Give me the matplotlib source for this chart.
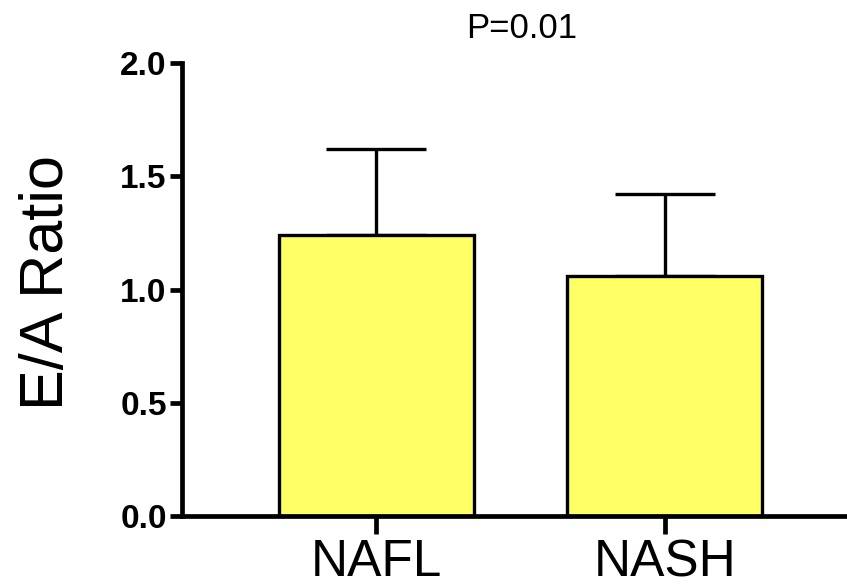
import matplotlib
matplotlib.use("Agg")
import matplotlib.pyplot as plt

categories = ["NAFL", "NASH"]
means = [1.24, 1.06]
sd_upper = [0.38, 0.36]
y_ticks = [0.0, 0.5, 1.0, 1.5, 2.0]
y_tick_labels = ["0.0", "0.5", "1.0", "1.5", "2.0"]
annotation = "P=0.01"
ylabel = "E/A Ratio"

plt.rcParams['font.family'] = ['Liberation Sans', 'DejaVu Sans']

fig = plt.figure(figsize=(8.47, 5.84), dpi=100)
W, H = 847, 584
ax = fig.add_axes([182 / W, (H - 516) / H, (W - 182) / W, (516 - 63) / H])

x = list(range(len(categories)))
ax.bar(x, means, width=0.675, color="#FFFF66", edgecolor="black", linewidth=2.4, zorder=2)
for xi, m, e in zip(x, means, sd_upper):
    ax.errorbar([xi], [m], yerr=[[0], [e]], fmt="none", ecolor="black",
                elinewidth=2.4, capsize=36, capthick=2.4, zorder=1)

ax.set_xlim(-0.675, 1.633)
ax.set_ylim(0, 2.0)
ax.set_yticks(y_ticks)
ax.set_yticklabels(y_tick_labels, fontsize=24, fontweight="bold")
ax.set_xticks(x)
ax.set_xticklabels(categories, fontsize=37)

for s in ["top", "right"]:
    ax.spines[s].set_visible(False)
for s in ["left", "bottom"]:
    ax.spines[s].set_linewidth(3.4)
ax.tick_params(axis="y", length=9, width=3.4, pad=2)
ax.tick_params(axis="x", length=13, width=3.4, pad=3)

ax.set_ylabel(ylabel, fontsize=44)
ax.yaxis.set_label_coords((76 - 182) / (W - 182), (516 - 283) / (516 - 63))
fig.text(522 / W, 1 - 28 / H, annotation, fontsize=25, ha="center", va="center")

fig.savefig("out.png", dpi=100)
